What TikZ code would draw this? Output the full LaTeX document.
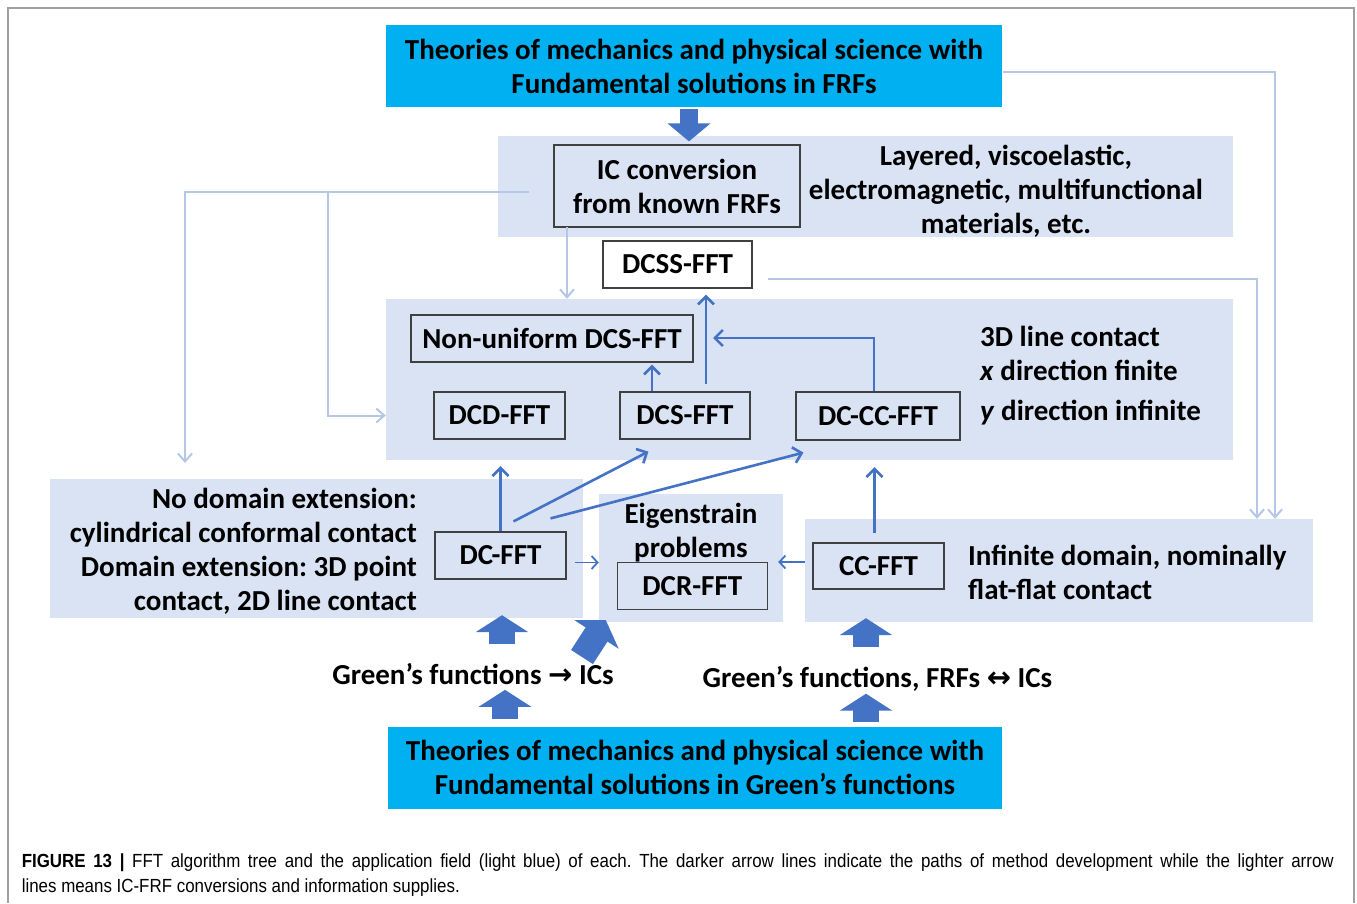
\documentclass[tikz,border=0pt]{standalone}
\usepackage{fontspec}
\setmainfont{Carlito}
\newfontfamily\capfont[FakeStretch=0.89]{Liberation Sans}
\newfontfamily\arrfont{DejaVu Sans}
\usepackage{tikz}
\usetikzlibrary{arrows.meta}
\definecolor{theorybg}{HTML}{00B0F0}
\definecolor{fieldbg}{HTML}{DAE3F3}
\definecolor{devline}{HTML}{4472C4}
\definecolor{supline}{HTML}{B4C7E7}
\definecolor{boxline}{HTML}{404040}
\definecolor{framegray}{HTML}{A0A0A0}
\newcommand{\lbl}{\fontsize{29}{34}\selectfont\bfseries}
\frenchspacing

\begin{document}
\begin{tikzpicture}[x=1pt, y=-1pt,
  every node/.style={inner sep=0pt, font=\lbl},
  theory/.style={fill=theorybg, align=center},
  field/.style={fill=fieldbg},
  fft/.style={draw=boxline, line width=1.2pt, align=center},
  dev/.style={draw=devline, line width=2.6pt, -{Straight Barb[length=8pt, width=16pt]}},
  devsmall/.style={draw=devline, line width=1.8pt, -{Straight Barb[length=6pt, width=13pt]}},
  sup/.style={draw=supline, line width=2pt, -{Straight Barb[length=8pt, width=14pt]}},
  blkS/.style={draw=devline, line width=18pt, -{Triangle[length=18pt, width=42pt]}},
  blkL/.style={draw=devline, line width=26pt, -{Triangle[length=17pt, width=52pt]}}]
\useasboundingbox (0,0) rectangle (1357,903);
\fill[white] (0,0) rectangle (1357,903);
\draw[framegray, line width=1.2pt] (8,903) -- (8,8) -- (1354,8) -- (1354,903);

\node[theory, minimum width=616pt, minimum height=82pt] (top) at (694,66) {Theories of mechanics and physical science with\\Fundamental solutions in FRFs};
\node[field, minimum width=735pt, minimum height=101pt] (pA) at (865.5,186.5) {};
\node[fft, minimum width=246pt, minimum height=82pt] (ic) at (677,186) {IC conversion\\from known FRFs};
\node[align=center] (matA) at (1006,191) {Layered, viscoelastic,\\electromagnetic, multifunctional\\materials, etc.};
\node[fft, fill=white, minimum width=149pt, minimum height=47pt] (dcss) at (677.5,264.5) {DCSS-FFT};
\node[field, minimum width=847pt, minimum height=161pt] (pB) at (809.5,379.5) {};
\node[fft, minimum width=282pt, minimum height=47pt] (nudcs) at (552,338.5) {Non-uniform DCS-FFT};
\node[fft, minimum width=131pt, minimum height=47pt] (dcd) at (499.5,415.5) {DCD-FFT};
\node[fft, minimum width=130pt, minimum height=47pt] (dcs) at (685,415.5) {DCS-FFT};
\node[fft, minimum width=164pt, minimum height=48pt] (dccc) at (878,416) {DC-CC-FFT};
\node[anchor=west] (lnA) at (980,336.7) {3D line contact};
\node[anchor=west] (lnB) at (980,370.7) {\textit{x} direction finite};
\node[anchor=west] (lnC) at (980,413) {\textit{y} direction infinite};
\node[field, minimum width=533pt, minimum height=139pt] (pC) at (316.5,548.5) {};
\node[align=right, anchor=east] (noDom) at (417,551) {No domain extension:\\cylindrical conformal contact\\Domain extension: 3D point\\contact, 2D line contact};
\node[fft, minimum width=131pt, minimum height=47pt] (dcfft) at (500.5,555.5) {DC-FFT};
\node[field, minimum width=184pt, minimum height=128pt] (pD) at (691,558) {};
\node[fft, minimum width=150pt, minimum height=47pt] (dcr) at (692.3,586) {DCR-FFT};
\node[align=center] (eig) at (691,533) {Eigenstrain\\problems};
\node[field, minimum width=508pt, minimum height=103pt] (pE) at (1059,570.5) {};
\node[fft, minimum width=131pt, minimum height=46pt] (ccfft) at (878.5,566) {CC-FFT};
\node[align=left, anchor=west] (inf) at (968,572) {Infinite domain, nominally\\flat-flat contact};
\node (gfA) at (473,674) {Green’s functions {\arrfont →} ICs};
\node (gfB) at (877.5,679) {Green’s functions, FRFs {\arrfont ↔} ICs};
\node[theory, minimum width=614pt, minimum height=82pt] (bot) at (695,767.5) {Theories of mechanics and physical science with\\Fundamental solutions in Green’s functions};
\node[anchor=north west, text width=1312pt, align=justify, font=\capfont\fontsize{19}{24.3}\selectfont] (cap) at (21.6,854) {\textbf{FIGURE 13 |} FFT algorithm tree and the application field (light blue) of each. The darker arrow lines indicate the paths of method development while the lighter arrow\linebreak lines means IC-FRF conversions and information supplies.};

\coordinate (icL) at (529,192);
\coordinate (brA) at (328,192);
\coordinate (cL) at (185,463);
\coordinate (icS) at (567,227);
\coordinate (topR) at (1003,72);
\coordinate (dcssR) at (768,279);
\coordinate (rA) at (1275,0);
\coordinate (rB) at (1257,0);
\coordinate (jnA) at (713,338);
\coordinate (gA) at (502,0);
\coordinate (gB) at (505,0);
\coordinate (gC) at (866,0);
\coordinate (dg) at (582,657);

\draw[sup] (icL) -| (cL);
\draw[sup] (brA) |- (dcd.west -| pB.west);
\draw[sup] (icS) -- (icS |- pB.north);
\draw[sup] (topR) -| (rA |- pE.north);
\draw[sup] (dcssR) -| (rB |- pE.north);

\draw[dev, shorten >=2pt] ([xshift=-33pt]dcs.north) -- ([xshift=-33pt]dcs.north |- nudcs.south);
\draw[dev, shorten <=7pt, shorten >=6pt] ([xshift=21pt]dcs.north) -- ([xshift=21pt]dcs.north |- dcss.south);
\draw[dev] ([xshift=-4pt]dccc.north) |- (jnA);
\draw[dev, shorten >=6pt] (dcfft.north) -- (dcfft.north |- pB.south);
\draw[dev] ([xshift=13pt, yshift=10pt]dcfft.north) -- ([xshift=29pt, yshift=-12pt]dcs.south west);
\draw[dev] ([xshift=50pt, yshift=13pt]dcfft.north) -- ([xshift=8pt, yshift=-12pt]dccc.south west);
\draw[dev, shorten <=9pt, shorten >=7pt] ([xshift=-4pt]ccfft.north) -- ([xshift=-4pt]ccfft.north |- pB.south);
\draw[devsmall, shorten <=8pt] ([yshift=-7pt]dcfft.east) -- ([yshift=-7pt]dcfft.east -| pD.west);
\draw[devsmall, shorten >=-5pt] ([yshift=4pt]ccfft.west -| pE.west) -- ([yshift=4pt]ccfft.west -| pD.east);

\draw[blkS, shorten <=2pt, shorten >=3pt] ([xshift=-5pt]top.south) -- ([xshift=-5pt]top.south |- ic.north);
\draw[blkL, shorten <=19pt, shorten >=-3pt] (gfA.north -| gA) -- (pC.south -| gA);
\draw[blkL, shorten <=7pt, shorten >=5pt] (bot.north -| gB) -- (gfA.south -| gB);
\draw[blkL, shorten <=19pt, shorten >=-4pt] (gfB.north -| gC) -- (pE.south -| gC);
\draw[blkL, shorten <=4pt, shorten >=2pt] (bot.north -| gC) -- (gfB.south -| gC);
\draw[blkL] (dg) -- ([xshift=7pt, yshift=2pt]pD.south west);
\end{tikzpicture}
\end{document}
